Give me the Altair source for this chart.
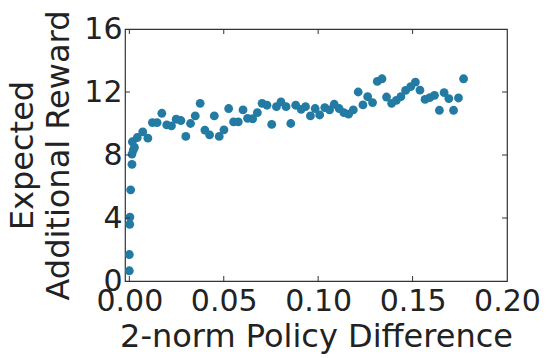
import altair as alt
import pandas as pd

# Policy distance vs. expected additional reward
policy_diff = [0.0, 0.0, 0.0002, 0.0003, 0.0007, 0.0014, 0.0014, 0.0021, 0.0027, 0.0016,
               0.0042, 0.0071, 0.0098, 0.0122, 0.0147, 0.0172, 0.0198, 0.0223, 0.0248, 0.0273,
               0.0299, 0.0324, 0.0349, 0.0375, 0.0400, 0.0425, 0.0450, 0.0476, 0.0501, 0.0526,
               0.0552, 0.0577, 0.0602, 0.0626, 0.0653, 0.0678, 0.0703, 0.0729, 0.0754, 0.0779,
               0.0803, 0.0830, 0.0855, 0.0881, 0.0910, 0.0933, 0.0959, 0.0984, 0.1008, 0.1035,
               0.1060, 0.1085, 0.1111, 0.1136, 0.1161, 0.1186, 0.1212, 0.1237, 0.1262, 0.1288,
               0.1313, 0.1338, 0.1362, 0.1389, 0.1414, 0.1438, 0.1463, 0.1490, 0.1515, 0.1539,
               0.1566, 0.1591, 0.1616, 0.1642, 0.1667, 0.1692, 0.1717, 0.1743, 0.1770]
expected_reward = [0.65, 1.68, 3.6, 4.06, 5.79, 7.41, 8.06, 8.31, 8.48, 8.84,
                   9.11, 9.47, 9.07, 10.06, 10.06, 10.65, 9.91, 9.85, 10.27, 10.19,
                   9.18, 10.0, 10.48, 11.28, 9.58, 9.28, 10.48, 9.18, 9.6, 10.95,
                   10.1, 10.1, 10.86, 10.33, 10.3, 10.69, 11.28, 11.16, 9.94, 11.07,
                   11.37, 11.07, 10.0, 11.16, 10.9, 11.07, 10.48, 10.95, 10.54, 11.01,
                   10.86, 11.22, 10.95, 10.69, 10.59, 10.86, 12.0, 11.18, 11.7, 11.33,
                   12.67, 12.84, 11.68, 11.28, 11.47, 11.7, 12.1, 12.34, 12.63, 12.12,
                   11.53, 11.64, 11.79, 10.84, 11.96, 11.58, 10.84, 11.62, 12.84]

x_ticks = [0.0, 0.05, 0.10, 0.15, 0.20]
y_ticks = [0, 4, 8, 12, 16]

W, H = 382, 252
FONT = "DejaVu Sans"
TICK_LEN = 5
FRAME = "#333333"

points = pd.DataFrame({"diff": policy_diff, "reward": expected_reward})
xt = pd.DataFrame({"diff": [0.0, 0.05, 0.10, 0.15]})
yt = pd.DataFrame({"reward": [4, 8, 12]})

x_scale = alt.Scale(domain=[-0.0023, 0.2], nice=False, zero=False)
y_scale = alt.Scale(domain=[0, 16], nice=False)

x_axis = alt.Axis(title="2-norm Policy Difference", values=x_ticks, format=".2f",
                  tickSize=0, domain=False, grid=False, labelPadding=5, titlePadding=5,
                  labelOverlap=False, labelFlush=False, labelBound=False)
y_axis = alt.Axis(title=["Expected", "Additional Reward"], values=y_ticks,
                  format="d", tickSize=0, domain=False, grid=False,
                  labelPadding=3, titlePadding=8, titleLineHeight=36,
                  labelOverlap=False, labelFlush=False, labelBound=False)

scatter = alt.Chart(points).mark_circle(size=78, opacity=1, color="#237ba3").encode(
    x=alt.X("diff:Q", scale=x_scale, axis=x_axis),
    y=alt.Y("reward:Q", scale=y_scale, axis=y_axis),
)

# inward-pointing tick marks on all four sides of the frame
tick_style = dict(color=FRAME, strokeWidth=1)
x_bottom = alt.Chart(xt).mark_rule(**tick_style).encode(
    x=alt.X("diff:Q", scale=x_scale, axis=x_axis),
    y=alt.value(H), y2=alt.value(H - TICK_LEN))
x_top = alt.Chart(xt).mark_rule(**tick_style).encode(
    x=alt.X("diff:Q", scale=x_scale, axis=x_axis),
    y=alt.value(0), y2=alt.value(TICK_LEN))
y_left = alt.Chart(yt).mark_rule(**tick_style).encode(
    y=alt.Y("reward:Q", scale=y_scale, axis=y_axis),
    x=alt.value(0), x2=alt.value(TICK_LEN))
y_right = alt.Chart(yt).mark_rule(**tick_style).encode(
    y=alt.Y("reward:Q", scale=y_scale, axis=y_axis),
    x=alt.value(W - TICK_LEN), x2=alt.value(W))

chart = alt.layer(scatter, x_bottom, x_top, y_left, y_right).properties(
    width=W, height=H,
    autosize=alt.AutoSizeParams(type="none"),
    padding={"left": 125, "top": 29, "right": 551 - 125 - W, "bottom": 358 - 29 - H},
).configure_view(
    stroke=FRAME, strokeWidth=1.2
).configure_axis(
    labelFont=FONT, titleFont=FONT, labelFontSize=30, titleFontSize=32,
    labelColor="#222222", titleColor="#222222", titleFontWeight="normal",
)

chart.save("out.html", embed_options={"renderer": "svg", "actions": False})
